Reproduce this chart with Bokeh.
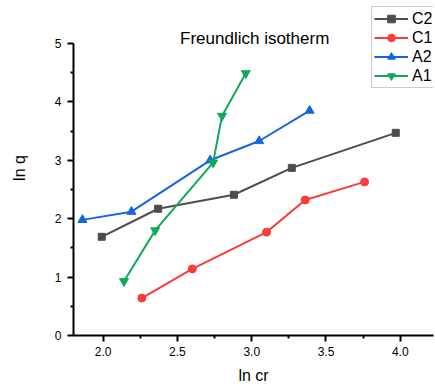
from bokeh.plotting import figure
from bokeh.models import Legend, LegendItem, Range1d, FixedTicker, Label, NumeralTickFormatter
from bokeh.embed import file_html
from bokeh.resources import INLINE

c2_x = [1.99, 2.37, 2.88, 3.27, 3.97]
c2_y = [1.69, 2.17, 2.41, 2.87, 3.47]
c1_x = [2.26, 2.60, 3.10, 3.36, 3.76]
c1_y = [0.64, 1.14, 1.77, 2.32, 2.63]
a2_x = [1.86, 2.19, 2.72, 3.05, 3.39]
a2_y = [1.98, 2.12, 3.00, 3.33, 3.85]
a1_x = [2.14, 2.35, 2.74, 2.80, 2.96]
a1_y = [0.93, 1.80, 2.96, 3.76, 4.49]
x_ticks = [2.0, 2.5, 3.0, 3.5, 4.0]
y_ticks = [0, 1, 2, 3, 4, 5]

FONT = "Liberation Sans"

p = figure(width=435, height=388, output_backend="svg", toolbar_location=None,
           x_range=Range1d(1.8, 4.224), y_range=Range1d(0, 5.736),
           min_border_left=73, min_border_right=2, min_border_top=0, min_border_bottom=53)
p.outline_line_color = None
p.grid.visible = False
p.background_fill_color = "white"
p.border_fill_color = "white"

for ax in (p.xaxis[0], p.yaxis[0]):
    ax.axis_line_width = 2
    ax.axis_line_color = "black"
    ax.major_tick_line_width = 2
    ax.minor_tick_line_width = 2
    ax.major_tick_out = 6
    ax.major_tick_in = 0
    ax.minor_tick_out = 3
    ax.minor_tick_in = 0
    ax.major_label_text_font = FONT
    ax.major_label_text_font_size = "12px"
    ax.major_label_text_color = "black"
    ax.axis_label_text_font = FONT
    ax.axis_label_text_font_size = "16px"
    ax.axis_label_text_font_style = "normal"
    ax.axis_label_text_color = "black"

p.yaxis[0].bounds = (0, 5)
p.xaxis[0].ticker = FixedTicker(ticks=x_ticks, minor_ticks=[2.25, 2.75, 3.25, 3.75, 4.25, 1.75])
p.yaxis[0].ticker = FixedTicker(ticks=y_ticks, minor_ticks=[0.5, 1.5, 2.5, 3.5, 4.5])
p.xaxis[0].formatter = NumeralTickFormatter(format="0.0")
p.xaxis[0].axis_label = "ln cr"
p.yaxis[0].axis_label = "ln q"
p.xaxis[0].major_label_standoff = 5
p.xaxis[0].axis_label_standoff = 8
p.yaxis[0].major_label_standoff = 6
p.yaxis[0].axis_label_standoff = 24

series = [
    ("C2", c2_x, c2_y, "#4d4d4d", "square", 7),
    ("C1", c1_x, c1_y, "#fa3c3c", "circle", 8),
    ("A2", a2_x, a2_y, "#1565e0", "triangle", 9),
    ("A1", a1_x, a1_y, "#12a85a", "inverted_triangle", 9),
]
items = []
for name, xs, ys, col, mk, sz in series:
    r1 = p.line(xs, ys, line_color=col, line_width=2)
    r2 = p.scatter(xs, ys, marker=mk, size=sz, fill_color=col, line_color=col)
    items.append(LegendItem(label=name, renderers=[r1, r2]))

legend = Legend(items=items, location=(298, 247))
legend.label_text_font = FONT
legend.label_text_font_size = "16px"
legend.label_text_color = "black"
legend.border_line_color = "#999999"
legend.border_line_width = 1
legend.padding = 2
legend.spacing = 0
legend.margin = 0
legend.glyph_width = 34
legend.glyph_height = 19
legend.label_height = 19
legend.label_standoff = 4
legend.background_fill_alpha = 1
p.add_layout(legend, "center")

title = Label(x=3.02, y=5.09, text="Freundlich isotherm", text_font=FONT,
              text_font_size="17px", text_align="center", text_baseline="middle",
              text_color="black")
p.add_layout(title)

open("out.html", "w").write(file_html(p, INLINE))
